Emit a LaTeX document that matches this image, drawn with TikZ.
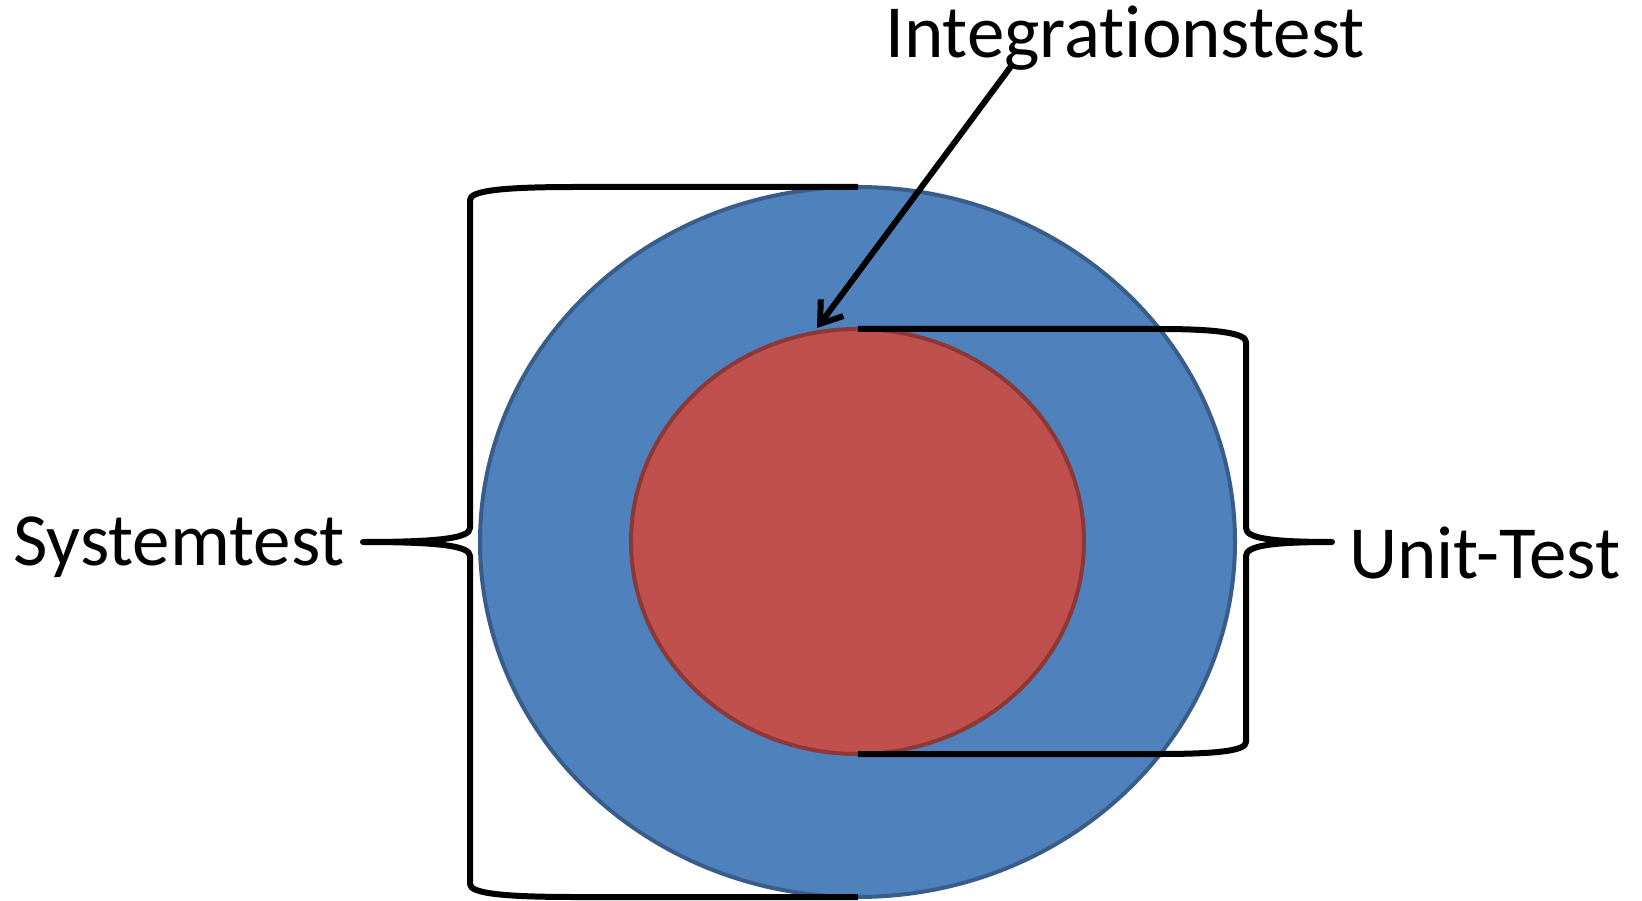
\documentclass[tikz,border=0pt]{standalone}
\usepackage{fontspec}
\setmainfont[Ligatures={NoCommon}]{Carlito}
\usetikzlibrary{shapes.geometric,arrows.meta}
\definecolor{blueFill}{HTML}{4F81BD}
\definecolor{blueLine}{HTML}{385D8A}
\definecolor{redFill}{HTML}{C0504D}
\definecolor{redLine}{HTML}{8C3836}
\tikzset{
  bigtext/.style={inner sep=0pt, anchor=base west, font=\fontsize{75}{90}\selectfont},
  bracestyle/.style={line width=6pt, black, line join=round},
  ring/.style={ellipse, inner sep=0pt, line width=4pt},
}
\begin{document}
\begin{tikzpicture}[x=1pt,y=-1pt]
\useasboundingbox (0,0) rectangle (1642,901);
% ellipses
\node[ring, draw=blueLine, fill=blueFill, minimum width=755pt, minimum height=710pt] (outer) at (857.5,542) {};
\node[ring, draw=redLine, fill=redFill, minimum width=453pt, minimum height=425pt] (inner) at (857.5,541.5) {};
% texts
\node[bigtext] (sys) at (13,565) {Systemtest};
\node[bigtext] (unit) at (1349,578) {Unit-Test};
\node[bigtext] (integ) at (885,58) {Integrationstest};
% left brace (Systemtest)
\coordinate (ltip) at (363,542);
\draw[bracestyle] (858,187) -- (575,187) .. controls (500,187) and (470,191) .. (470,200)
  -- (470,528) .. controls (470,538) and (440,542) .. (ltip)
  .. controls (440,542) and (470,546) .. (470,556)
  -- (470,884) .. controls (470,893) and (500,897) .. (575,897) -- (858,897);
% right brace (Unit-Test)
\coordinate (rtip) at (1332,542);
\draw[bracestyle] (858,329) -- (1160,329) .. controls (1222,329) and (1246,334) .. (1246,342)
  -- (1246,528) .. controls (1246,538) and (1270,542) .. (rtip)
  .. controls (1270,542) and (1246,546) .. (1246,556)
  -- (1246,742) .. controls (1246,750) and (1222,754) .. (1160,754) -- (858,754);
% arrow
\coordinate (astart) at (1012,65);
\coordinate (atip) at (817,328);
\draw[line width=6pt, -{Straight Barb[length=20pt,width=28pt]}] (astart) -- (atip);
\end{tikzpicture}
\end{document}
